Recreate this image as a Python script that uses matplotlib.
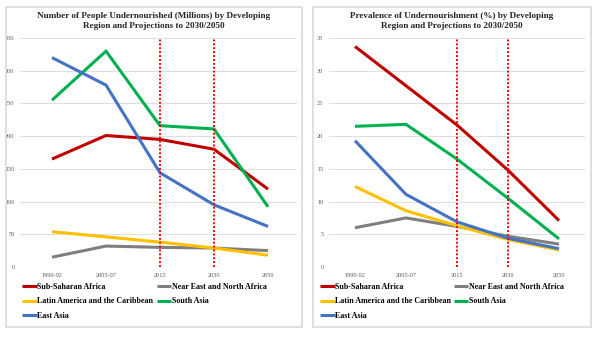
import matplotlib
matplotlib.use("Agg")
import matplotlib.pyplot as plt
from matplotlib.patches import Rectangle

# data
periods = ["1990-92", "2005-07", "2015", "2030", "2050"]
regions = ["Sub-Saharan Africa", "Near East and North Africa",
           "Latin America and the Caribbean", "South Asia", "East Asia"]
colors = ["#C00000", "#7F7F7F", "#FFC000", "#00B050", "#4472C4"]

millions_ssa = [165, 201, 195, 180, 119]
millions_nena = [15, 32, 30, 29, 25]
millions_lac = [54, 46, 38, 29, 18]
millions_sa = [255, 330, 216, 211, 92]
millions_ea = [320, 278, 144, 95, 62]

pct_ssa = [33.7, 27.7, 21.7, 14.8, 7.1]
pct_nena = [6.0, 7.5, 6.2, 4.7, 3.5]
pct_lac = [12.3, 8.6, 6.3, 4.2, 2.6]
pct_sa = [21.5, 21.8, 16.5, 10.5, 4.3]
pct_ea = [19.3, 11.1, 6.9, 4.4, 2.8]

millions = [millions_ssa, millions_nena, millions_lac, millions_sa, millions_ea]
pct = [pct_ssa, pct_nena, pct_lac, pct_sa, pct_ea]

SERIF = ["Liberation Serif", "DejaVu Serif"]
W, H = 600, 337
fig = plt.figure(figsize=(W / 100, H / 100), dpi=100)


def frac(x0, y0, x1, y1):
    # pixel box (top-left origin) -> figure fraction [l, b, w, h]
    return [x0 / W, 1 - y1 / H, (x1 - x0) / W, (y1 - y0) / H]


def panel(box, axbox, xlim, ymax, ystep, series, title, leg_x, col2_gap):
    fig.patches.append(Rectangle((box[0] / W, 1 - box[3] / H),
                                 (box[2] - box[0]) / W, (box[3] - box[1]) / H,
                                 transform=fig.transFigure, fill=False,
                                 edgecolor="#D9D9D9", lw=1.2))
    ax = fig.add_axes(frac(*axbox))
    x = list(range(len(periods)))
    lines = []
    for vals, name, c in zip(series, regions, colors):
        ln, = ax.plot(x, vals, color=c, lw=2.2, label=name, solid_capstyle="butt")
        lines.append(ln)
    for xv in (2, 3):
        ax.axvline(xv, color="#FF0000", ls=(0, (1, 1)), lw=1.4, zorder=5)
    ax.set_xlim(*xlim)
    ax.set_ylim(0, ymax)
    ax.set_yticks(range(0, ymax + 1, ystep))
    ax.set_xticks(x)
    ax.set_xticklabels(periods)
    ax.grid(axis="y", color="#E0E0E0", lw=0.8)
    ax.set_axisbelow(True)
    for s in ax.spines.values():
        s.set_visible(False)
    ax.tick_params(length=0, labelsize=4.5, labelcolor="#595959", pad=4)
    for t in ax.get_xticklabels() + ax.get_yticklabels():
        t.set_family(SERIF)
    cx = (box[0] + box[2]) / 2 / W
    fig.text(cx, 1 - 21 / H, title, ha="center", va="center", fontsize=6.6,
             fontweight="bold", family=SERIF, color="#262626", linespacing=1.25)
    order = [0, 2, 4, 1, 3]
    fig.legend([lines[i] for i in order], [regions[i] for i in order],
               loc="upper left", bbox_to_anchor=(leg_x / W, 1 - 283 / H),
               ncol=2, frameon=False, handlelength=1.8, handletextpad=0.1,
               columnspacing=col2_gap, labelspacing=0.8, borderaxespad=0,
               borderpad=0,
               prop={"family": SERIF, "weight": "bold", "size": 5.8})
    return ax


panel((6, 7, 302, 327), (20, 38, 297, 267), (-0.593, 4.537), 350, 50, millions,
      "Number of People Undernourished (Millions) by Developing\nRegion and Projections to 2030/2050",
      22, 0.4)
panel((313, 7, 591, 327), (329, 38, 585, 267), (-0.51, 4.51), 35, 5, pct,
      "Prevalence of Undernourishment (%) by Developing\nRegion and Projections to 2030/2050",
      320, 0.3)

fig.savefig("out.png", facecolor="white")
